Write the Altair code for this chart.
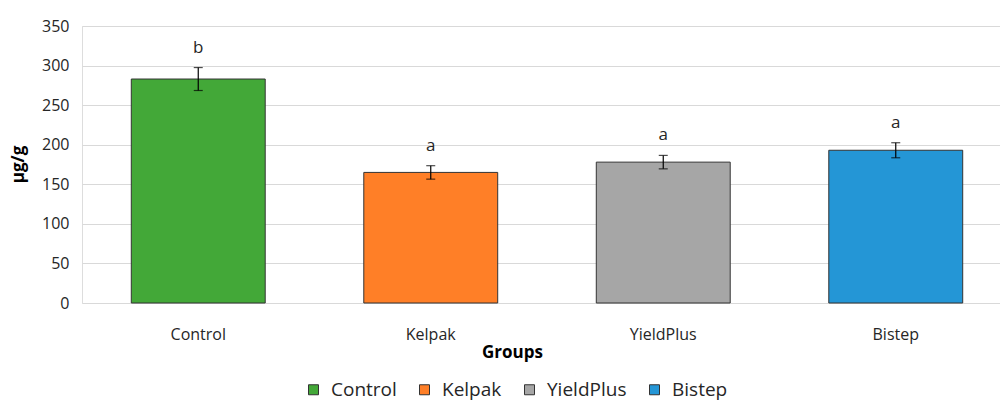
import altair as alt
import pandas as pd

groups = ["Control", "Kelpak", "YieldPlus", "Bistep"]
means = [283, 165, 178, 193]
errors = [14.5, 8.5, 8.5, 9.5]
letters = ["b", "a", "a", "a"]
colors = ["#43A838", "#FF7F27", "#A6A6A6", "#2496D6"]
y_ticks = [0, 50, 100, 150, 200, 250, 300, 350]

df = pd.DataFrame({
    "Group": groups,
    "Mean": means,
    "Err": errors,
    "Letter": letters,
})
df["Lo"] = df["Mean"] - df["Err"]
df["Hi"] = df["Mean"] + df["Err"]

FONT = "Open Sans"

x_axis = alt.Axis(
    title="Groups", titleFontWeight="bold", titleFontSize=17, titleFont=FONT,
    titleColor="#000", titleX=430, titleY=49, titleBaseline="middle",
    labelFont=FONT, labelFontSize=16, labelColor="#262626", labelPadding=23,
    labelAngle=0, domain=False, ticks=False, grid=False,
)
x_scale = alt.Scale(range=[0, 930], paddingInner=0.424, paddingOuter=0.212)

y_axis = alt.Axis(
    values=y_ticks, tickCount=8, labelOverlap=False,
    title="µg/g", titleFont=FONT, titleFontSize=17,
    titleFontWeight="bold", titleColor="#000", titleAngle=-90,
    titleX=-64, titleY=138, titleAlign="center", titleBaseline="middle",
    labelFont=FONT, labelFontSize=16, labelColor="#262626", labelPadding=13,
    domain=False, ticks=False, gridColor="#d9d9d9", gridWidth=1,
)
y_scale = alt.Scale(domain=[0, 350], nice=False)


def X():
    return alt.X("Group:N", sort=groups, scale=x_scale, axis=x_axis)


def Y(field):
    return alt.Y(field, scale=y_scale, axis=y_axis)


base = alt.Chart(df)

bars = base.mark_bar(stroke="#333333", strokeWidth=1).encode(
    x=X(),
    y=Y("Mean:Q"),
    color=alt.Color(
        "Group:N",
        sort=groups,
        scale=alt.Scale(domain=groups, range=colors),
        legend=alt.Legend(
            title=None, orient="none", direction="horizontal",
            legendX=222, legendY=354,
            symbolType="square", symbolSize=100, symbolStrokeColor="#333333",
            symbolStrokeWidth=1, symbolOpacity=1,
            labelFont=FONT, labelFontSize=19, labelColor="#262626",
            labelOffset=8, columnPadding=18,
        ),
    ),
)

rule = base.mark_rule(color="#000", strokeWidth=1.2).encode(
    x=X(), y=Y("Lo:Q"), y2="Hi:Q"
)
cap_lo = base.mark_tick(color="#000", size=9, thickness=1.2, orient="horizontal").encode(
    x=X(), y=Y("Lo:Q")
)
cap_hi = base.mark_tick(color="#000", size=9, thickness=1.2, orient="horizontal").encode(
    x=X(), y=Y("Hi:Q")
)
text = base.mark_text(font=FONT, fontSize=17, color="#262626", dy=-20).encode(
    x=X(), y=Y("Hi:Q"), text="Letter:N"
)

chart = alt.layer(bars, rule, cap_lo, cap_hi, text).properties(
    width=918, height=277,
    autosize=alt.AutoSizeParams(type="none"),
    padding={"left": 82, "top": 26, "right": 0, "bottom": 98},
).configure_view(stroke=None).configure(background="white")

chart.save("out.html", embed_options={"renderer": "svg", "actions": False})
